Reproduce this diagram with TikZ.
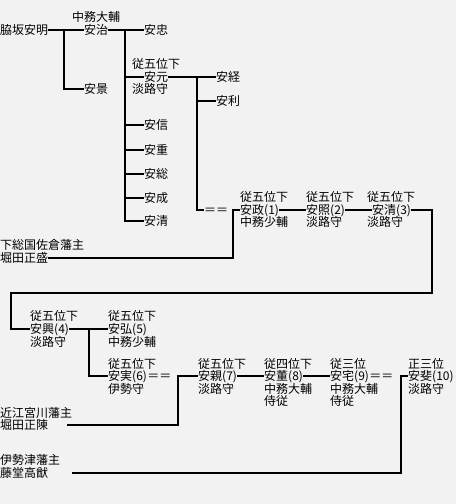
\documentclass[tikz,border=0pt]{standalone}
\usepackage{fontspec}
\newfontfamily\jp{Noto Sans CJK JP}
\definecolor{bg}{RGB}{242,242,242}
\begin{document}
\begin{tikzpicture}[x=1pt,y=-1pt,
  t/.style={anchor=west,inner sep=0pt,font=\jp\fontsize{12}{12}\selectfont,text height=10.5pt,text depth=1.5pt},
  ln/.style={line width=2pt,line join=miter}]
\fill[bg] (0,0) rectangle (456,504);
\useasboundingbox (0,0) rectangle (456,504);
% generation 1
\node[t] (akiaki) at (0,30) {脇坂安明};
\node[t] (t1) at (72,17) {中務大輔};
\node[t] (yasuharu) at (84,30) {安治};
\node[t] (yasukage) at (84,89) {安景};
\node[t] (yasutada) at (144,30) {安忠};
\node[t] (t2) at (132,64) {従五位下};
\node[t] (yasumoto) at (144,77) {安元};
\node[t] (t3) at (132,89) {淡路守};
\node[t] (yasunobu) at (144,125) {安信};
\node[t] (yasushige) at (144,150) {安重};
\node[t] (yasufusa) at (144,174) {安総};
\node[t] (yasunari) at (144,198) {安成};
\node[t] (yasukiyoA) at (144,221) {安清};
\node[t] (yasutsune) at (216,77) {安経};
\node[t] (yasutoshi) at (216,101) {安利};
\node[t] (eqA) at (204,210) {＝＝};
\coordinate (c1) at (64,30);
\coordinate (c2) at (125,30);
\coordinate (c3) at (197,77);
\draw[ln] (akiaki.east) -- (yasuharu.west);
\draw[ln] (c1) |- (yasukage.west);
\draw[ln] (yasuharu.east) -- (yasutada.west);
\draw[ln] (c2) |- (yasukiyoA.west);
\foreach \n in {yasumoto,yasunobu,yasushige,yasufusa,yasunari}
  \draw[ln] (c2 |- \n.west) -- (\n.west);
\draw[ln] (yasumoto.east) -- (yasutsune.west);
\draw[ln] (c3) |- (eqA.west);
\draw[ln] (c3 |- yasutoshi.west) -- (yasutoshi.west);
% (1)-(3)
\node[t] (t4) at (240,197) {従五位下};
\node[t] (p1) at (240,210) {安政(1)};
\node[t] (t5) at (240,222) {中務少輔};
\node[t] (h1a) at (0,245) {下総国佐倉藩主};
\node[t] (h1) at (0,258) {堀田正盛};
\coordinate (c4) at (233,210);
\draw[ln] (h1.east) -| (c4) -- (p1.west);
\node[t] (t6) at (306,197) {従五位下};
\node[t] (p2) at (306,210) {安照(2)};
\node[t] (t7) at (306,222) {淡路守};
\node[t] (t8) at (367,197) {従五位下};
\node[t] (p3) at (372,210) {安清(3)};
\node[t] (t9) at (367,222) {淡路守};
\draw[ln] (p1.east) -- (p2.west);
\draw[ln] (p2.east) -- (p3.west);
\coordinate (c5) at (432,293);
\coordinate (c6) at (11,293);
% (4)-(6)
\node[t] (t10) at (30,316) {従五位下};
\node[t] (p4) at (30,329) {安興(4)};
\node[t] (t11) at (30,342) {淡路守};
\draw[ln] (p3.east) -| (c5) -- (c6) |- (p4.west);
\node[t] (t12) at (108,316) {従五位下};
\node[t] (p5) at (108,329) {安弘(5)};
\node[t] (t13) at (108,342) {中務少輔};
\draw[ln] (p4.east) -- (p5.west);
\node[t] (t14) at (108,364) {従五位下};
\node[t] (p6) at (108,376) {安実(6)};
\node[t] (eq6) at (p6.east) {＝＝};
\node[t] (t15) at (108,389) {伊勢守};
\coordinate (c7) at (89,329);
\draw[ln] (c7) |- (p6.west);
% (7)-(10)
\node[t] (h2a) at (0,413) {近江宮川藩主};
\node[t] (h2) at (0,425) {堀田正陳};
\coordinate (c8) at (178,376);
\node[t] (t16) at (198,364) {従五位下};
\node[t] (p7) at (198,376) {安親(7)};
\node[t] (t17) at (198,389) {淡路守};
\draw[ln] ([xshift=19pt]h2.east) -| (c8) -- (p7.west);
\node[t] (t18) at (264,364) {従四位下};
\node[t] (p8) at (264,376) {安董(8)};
\node[t] (t19) at (264,389) {中務大輔};
\node[t] (t20) at (264,401) {侍従};
\draw[ln] (p7.east) -- (p8.west);
\node[t] (t21) at (330,364) {従三位};
\node[t] (p9) at (330,376) {安宅(9)};
\node[t] (eq9) at (p9.east) {＝＝};
\node[t] (t22) at (330,389) {中務大輔};
\node[t] (t23) at (330,401) {侍従};
\draw[ln] (p8.east) -- (p9.west);
\node[t] (t24) at (408,364) {正三位};
\node[t] (p10) at (408,376) {安斐(10)};
\node[t] (t25) at (408,389) {淡路守};
\node[t] (h3a) at (0,460) {伊勢津藩主};
\node[t] (h3) at (0,473) {藤堂高猷};
\coordinate (c9) at (401,376);
\draw[ln] ([xshift=24pt]h3.east) -| (c9) -- (p10.west);
\end{tikzpicture}
\end{document}
